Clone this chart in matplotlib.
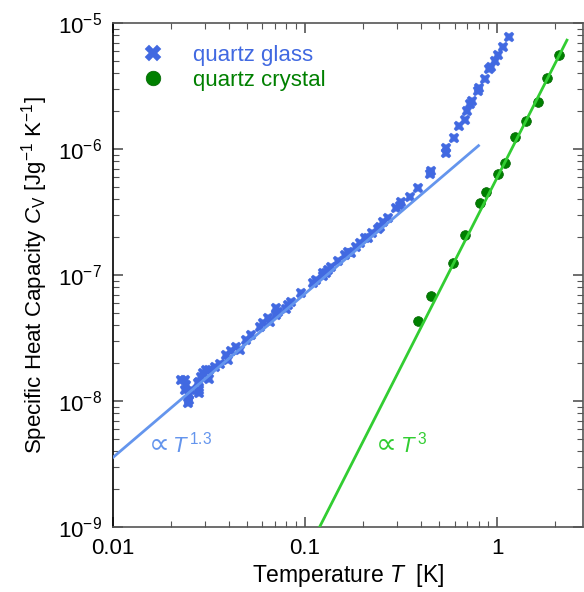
import numpy as np
import matplotlib
matplotlib.use("Agg")
import matplotlib.pyplot as plt
from matplotlib.ticker import FixedLocator, FixedFormatter, LogLocator, NullFormatter

plt.rcParams['font.family'] = ['Liberation Sans', 'DejaVu Sans']
plt.rcParams['mathtext.fontset'] = 'custom'
plt.rcParams['mathtext.rm'] = 'Liberation Sans'
plt.rcParams['mathtext.it'] = 'Liberation Sans:italic'
plt.rcParams['mathtext.bf'] = 'Liberation Sans:bold'

# ── DATOS ───────────────────────────────────────────────────
T_VIDRIO = [0.0226, 0.0236, 0.0236, 0.0240, 0.0245, 0.0250, 0.0250, 0.0255,
            0.0277, 0.0282, 0.0282, 0.0282, 0.0288, 0.0294, 0.0305, 0.0316,
            0.0318, 0.0338, 0.0359, 0.0389, 0.0396, 0.0413, 0.0439, 0.0456,
            0.0494, 0.0525, 0.0580, 0.0603, 0.0641, 0.0654, 0.0708, 0.0708,
            0.0722, 0.0799, 0.0815, 0.0849, 0.0957, 0.110, 0.1146, 0.124,
            0.124, 0.129, 0.1316, 0.137, 0.148, 0.161, 0.1675, 0.174,
            0.185, 0.193, 0.205, 0.213, 0.222, 0.240, 0.245, 0.255,
            0.270, 0.299, 0.311, 0.315, 0.351, 0.388, 0.447, 0.452,
            0.541, 0.541, 0.598, 0.632, 0.679, 0.696, 0.722, 0.739,
            0.797, 0.801, 0.864, 0.909, 0.925, 0.974, 1.006, 1.076, 1.156]
C_VIDRIO = [1.47e-8, 1.47e-8, 1.22e-8, 1.34e-8, 9.6e-9, 1.12e-8, 1.02e-8, 1.22e-8,
            1.38e-8, 1.42e-8, 1.22e-8, 1.15e-8, 1.54e-8, 1.68e-8, 1.76e-8, 1.49e-8,
            1.76e-8, 1.85e-8, 1.97e-8, 2.32e-8, 2.11e-8, 2.50e-8, 2.67e-8, 2.54e-8,
            3.05e-8, 3.34e-8, 3.85e-8, 4.14e-8, 4.53e-8, 4.26e-8, 4.82e-8, 5.44e-8,
            5.12e-8, 5.35e-8, 5.78e-8, 6.14e-8, 7.16e-8, 8.59e-8, 9.12e-8, 1.03e-7,
            9.82e-8, 1.03e-7, 1.10e-7, 1.15e-7, 1.28e-7, 1.44e-7, 1.53e-7, 1.49e-7,
            1.68e-7, 1.79e-7, 1.95e-7, 1.95e-7, 2.14e-7, 2.31e-7, 2.42e-7, 2.65e-7,
            2.82e-7, 3.38e-7, 3.53e-7, 3.82e-7, 4.14e-7, 4.88e-7, 6.34e-7, 6.68e-7,
            1.01e-6, 9.25e-7, 1.23e-6, 1.52e-6, 1.70e-6, 2.01e-6, 2.28e-6, 2.42e-6,
            2.90e-6, 3.03e-6, 3.61e-6, 4.30e-6, 4.50e-6, 5.02e-6, 5.60e-6, 6.49e-6, 7.70e-6]

T_CRISTAL = [0.388, 0.455, 0.590, 0.679, 0.816, 0.877, 1.013, 1.102,
             1.234, 1.413, 1.626, 1.81, 2.11]
C_CRISTAL = [4.31e-8, 6.81e-8, 1.24e-7, 2.07e-7, 3.73e-7, 4.58e-7, 6.34e-7, 7.78e-7,
             1.245e-6, 1.67e-6, 2.35e-6, 3.64e-6, 5.57e-6]

# ajustes en ley de potencia
EXP_VIDRIO, PREF_VIDRIO, RANGO_VIDRIO = 1.3, 1.42e-6, (0.01, 0.80)
EXP_CRISTAL, PREF_CRISTAL, RANGO_CRISTAL = 3, 5.93e-7, (0.10, 2.31)

COLOR_VIDRIO = "#4169E1"
COLOR_AJUSTE_VIDRIO = "#6495ED"
COLOR_CRISTAL = "#008000"
COLOR_AJUSTE_CRISTAL = "#32CD32"
# ────────────────────────────────────────────────────────────

fig = plt.figure(figsize=(5.84, 5.92), dpi=100)
ax = fig.add_axes([113 / 584, 65 / 592, 470 / 584, 504 / 592])

ax.plot(T_VIDRIO, C_VIDRIO, ls="none", marker="X", ms=7.5, mfc=COLOR_VIDRIO,
        mec=COLOR_VIDRIO, mew=0.3, label="quartz glass", zorder=2)
ax.plot(T_CRISTAL, C_CRISTAL, ls="none", marker="o", ms=7, mfc=COLOR_CRISTAL,
        mec="#006400", mew=0.5, label="quartz crystal", zorder=2)

t_v = np.array(RANGO_VIDRIO)
ax.plot(t_v, PREF_VIDRIO * t_v ** EXP_VIDRIO, color=COLOR_AJUSTE_VIDRIO, lw=2, zorder=3)
t_c = np.array(RANGO_CRISTAL)
ax.plot(t_c, PREF_CRISTAL * t_c ** EXP_CRISTAL, color=COLOR_AJUSTE_CRISTAL, lw=2, zorder=3)

# anotaciones "∝ T^n"
for xt, exp_txt, col in [(0.0153, "1.3", COLOR_AJUSTE_VIDRIO),
                         (0.234, "3", COLOR_AJUSTE_CRISTAL)]:
    ax.text(xt, 3.9e-9, "\u221d", color=col, fontsize=21, family="DejaVu Sans",
            ha="left", va="baseline")
    ax.annotate(r"$\mathit{T}^{\,%s}$" % exp_txt, xy=(xt, 3.9e-9), xytext=(17, 0),
                textcoords="offset points", color=col, fontsize=16,
                ha="left", va="baseline")

ax.set_xscale("log")
ax.set_yscale("log")
ax.set_xlim(0.01, 2.8)
ax.set_ylim(1e-9, 1e-5)

ax.xaxis.set_major_locator(FixedLocator([0.01, 0.1, 1]))
ax.xaxis.set_major_formatter(FixedFormatter(["0.01", "0.1", "1"]))
ax.xaxis.set_minor_locator(LogLocator(base=10, subs=np.arange(2, 10)))
ax.xaxis.set_minor_formatter(NullFormatter())
y_mayores = [1e-9, 1e-8, 1e-7, 1e-6, 1e-5]
ax.yaxis.set_major_locator(FixedLocator(y_mayores))
ax.yaxis.set_major_formatter(FixedFormatter(
    [r"$\mathregular{10^{-%d}}$" % int(round(-np.log10(v))) for v in y_mayores]))
ax.yaxis.set_minor_locator(LogLocator(base=10, subs=np.arange(2, 10)))
ax.yaxis.set_minor_formatter(NullFormatter())

ax.tick_params(which="both", direction="in", top=True, right=True, colors="#555555",
               labelcolor="black", labelsize=16)
ax.tick_params(which="major", length=7, width=1.2)
ax.tick_params(which="minor", length=4, width=0.8)
ax.tick_params(axis="x", which="major", pad=8)
ax.tick_params(axis="y", which="major", pad=8)
for lado in ["top", "right", "bottom"]:
    ax.spines[lado].set_color("#555555")
ax.spines["left"].set_color("black")
for s in ax.spines.values():
    s.set_linewidth(1.2)

ax.set_xlabel(r"Temperature $\mathit{T}$  [K]", fontsize=16.5, labelpad=2)
ax.set_ylabel(r"Specific Heat Capacity $\mathit{C}_\mathregular{V}$ [Jg$^{-1}$ K$^{-1}$]",
              fontsize=16, labelpad=6)

leg = ax.legend(loc="upper left", bbox_to_anchor=(0.0, 1.0), frameon=False,
                fontsize=16, markerscale=1.5, handlelength=1.6, handletextpad=1.0,
                labelspacing=0.15, borderaxespad=0.6)
for texto, c in zip(leg.get_texts(), [COLOR_VIDRIO, COLOR_CRISTAL]):
    texto.set_color(c)

plt.savefig("out.png", dpi=100)
